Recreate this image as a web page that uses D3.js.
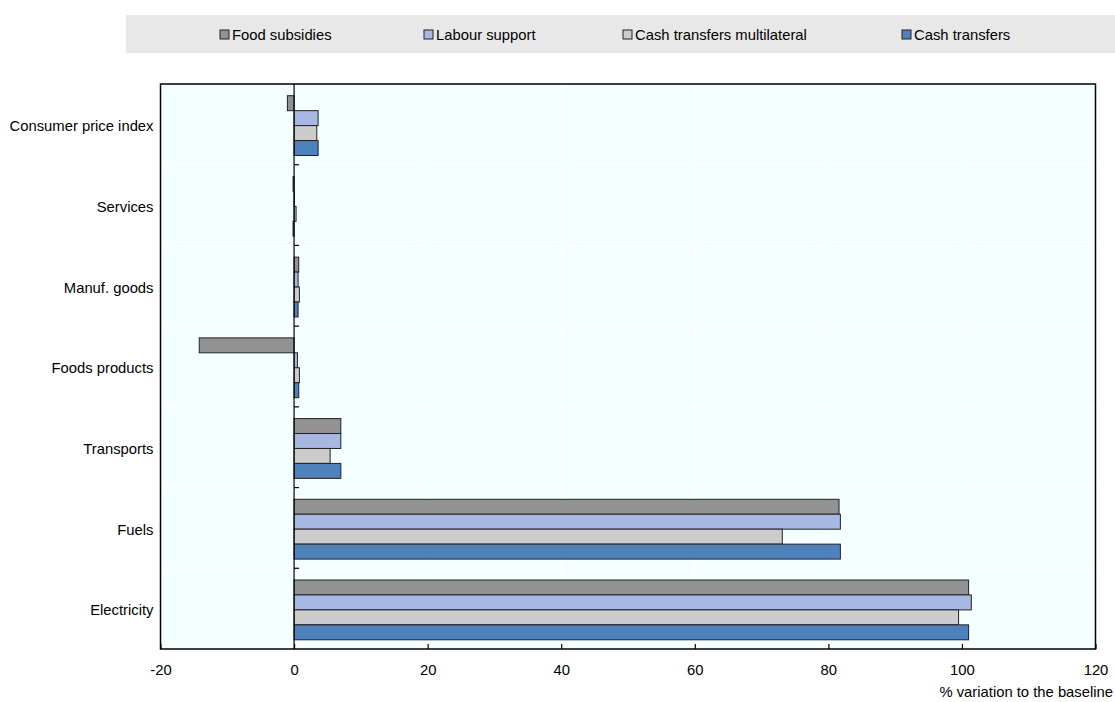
<!DOCTYPE html>
<html>
<head>
<meta charset="utf-8">
<script src="https://cdn.jsdelivr.net/npm/d3@7"></script>
<style>
  html, body { margin: 0; padding: 0; background: #fff; }
  svg { display: block; font-family: "Liberation Sans", Arial, sans-serif; }
</style>
</head>
<body>
<svg id="chart" width="1115" height="702"></svg>
<script>
const categories = ["Consumer price index", "Services", "Manuf. goods", "Foods products", "Transports", "Fuels", "Electricity"];
const seriesNames = ["Food subsidies", "Labour support", "Cash transfers multilateral", "Cash transfers"];
const foodSubsidies = [-1.0, -0.15, 0.7, -14.2, 7.0, 81.6, 101.0];
const labourSupport = [3.6, 0.05, 0.6, 0.5, 7.0, 81.8, 101.4];
const cashMultilateral = [3.4, 0.3, 0.8, 0.8, 5.4, 73.1, 99.5];
const cashTransfers = [3.6, -0.15, 0.6, 0.7, 7.0, 81.8, 101.0];
const xTicks = [-20, 0, 20, 40, 60, 80, 100, 120];
const xTitle = "% variation to the baseline";

const seriesValues = [foodSubsidies, labourSupport, cashMultilateral, cashTransfers];
const colors = ["#929292", "#A7B9E3", "#CCCCCC", "#4F81BD"];
const FS = 14.8;

const svg = d3.select("#chart");
const m = { left: 160.5, right: 1095.5, top: 84, bottom: 649 };

const x = d3.scaleLinear().domain([-20, 120]).range([m.left, m.right]);
const y0 = d3.scaleBand().domain(categories).range([m.top, m.bottom]).padding(0);
const y1 = d3.scaleBand().domain(seriesNames).range([0, y0.bandwidth()]).paddingInner(0).paddingOuter(0.7).align(0.56);

// legend
svg.append("rect").attr("x", 126).attr("y", 15).attr("width", 989).attr("height", 38).attr("fill", "#E8E8E8");
const legendX = [220, 424, 623, 902];
seriesNames.forEach((s, i) => {
  svg.append("rect").attr("x", legendX[i]).attr("y", 30).attr("width", 9).attr("height", 9)
    .attr("fill", colors[i]).attr("stroke", "#222").attr("stroke-width", 1);
  svg.append("text").attr("x", legendX[i] + 12).attr("y", 40).attr("font-size", FS)
    .attr("fill", "#000").text(s);
});

// plot background
svg.append("rect").attr("x", m.left).attr("y", m.top).attr("width", m.right - m.left).attr("height", m.bottom - m.top)
  .attr("fill", "#F4FFFF");

// grid
const g = svg.append("g");
xTicks.slice(1, -1).forEach(t => {
  g.append("line").attr("x1", x(t)).attr("x2", x(t)).attr("y1", m.top).attr("y2", m.bottom)
    .attr("stroke", "#ffffff").attr("stroke-width", 1.5);
});
categories.slice(1).forEach(c => {
  g.append("line").attr("x1", m.left).attr("x2", m.right).attr("y1", y0(c)).attr("y2", y0(c))
    .attr("stroke", "#ffffff").attr("stroke-width", 1.5);
});

// bars
categories.forEach((c, ci) => {
  seriesNames.forEach((s, si) => {
    const v = seriesValues[si][ci];
    svg.append("rect")
      .attr("x", Math.min(x(0), x(v)))
      .attr("y", y0(c) + y1(s))
      .attr("width", Math.abs(x(v) - x(0)))
      .attr("height", y1.bandwidth())
      .attr("fill", colors[si])
      .attr("stroke", "#222")
      .attr("stroke-width", 1);
  });
});

// frame
svg.append("rect").attr("x", m.left).attr("y", m.top).attr("width", m.right - m.left).attr("height", m.bottom - m.top)
  .attr("fill", "none").attr("stroke", "#000").attr("stroke-width", 1.5);

// zero axis with ticks
svg.append("line").attr("x1", x(0)).attr("x2", x(0)).attr("y1", m.top).attr("y2", m.bottom)
  .attr("stroke", "#000").attr("stroke-width", 1.2);
categories.slice(1).forEach(c => {
  svg.append("line").attr("x1", x(0)).attr("x2", x(0) + 5).attr("y1", y0(c)).attr("y2", y0(c))
    .attr("stroke", "#000").attr("stroke-width", 1.2);
});

// bottom axis
const xAxis = d3.axisBottom(x).tickValues(xTicks).tickSizeInner(-5).tickSizeOuter(0).tickPadding(15)
  .tickFormat(d => String(d));
const ax = svg.append("g").attr("transform", `translate(0,${m.bottom})`).call(xAxis);
ax.select(".domain").remove();
ax.selectAll("line").attr("stroke", "#000").attr("stroke-width", 1.2);
ax.selectAll("text").attr("font-size", FS).attr("fill", "#000")
  .attr("font-family", "'Liberation Sans', Arial, sans-serif");

// category labels
const ay = d3.axisLeft(y0).tickSize(0).tickPadding(7);
const yg = svg.append("g").attr("transform", `translate(${m.left},2)`).call(ay);
yg.select(".domain").remove();
yg.selectAll("text").attr("font-size", FS).attr("fill", "#000")
  .attr("font-family", "'Liberation Sans', Arial, sans-serif");

// axis title
svg.append("text").attr("x", 1113).attr("y", 697).attr("text-anchor", "end").attr("font-size", FS)
  .attr("fill", "#000").text(xTitle);
</script>
</body>
</html>
